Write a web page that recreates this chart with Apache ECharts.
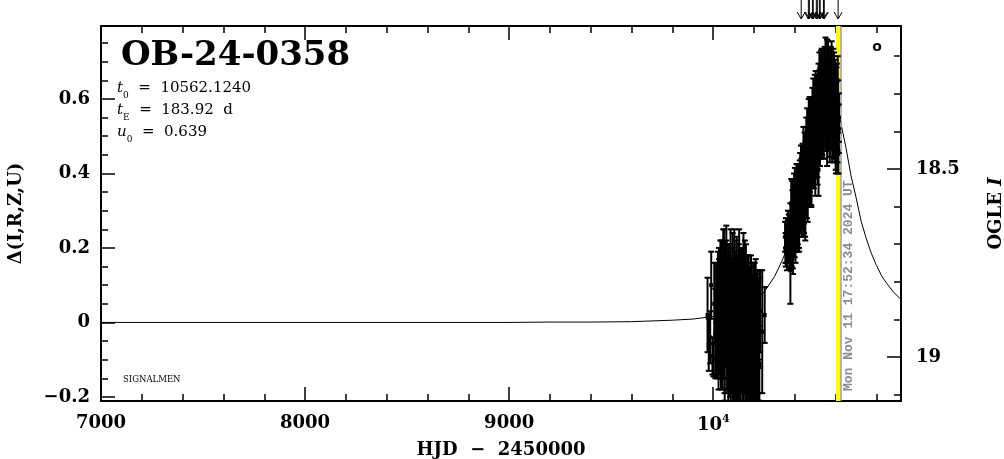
<!DOCTYPE html>
<html><head><meta charset="utf-8">
<script src="https://cdn.jsdelivr.net/npm/echarts@6/dist/echarts.min.js"></script>
<style>html,body{margin:0;padding:0;background:#fff}#c{width:1004px;height:459px}</style>
</head><body><div id="c"></div>
<script>
// ---- axis ranges / tick labels ----
const X_MIN = 7000, X_MAX = 10920;
const Y_MIN = -0.211, Y_MAX = 0.796;
const I_MIN = 18.12, I_MAX = 19.117;
const yMajor = [-0.2, 0, 0.2, 0.4, 0.6];
const yMinor = [-0.15, -0.1, -0.05, 0.05, 0.1, 0.15, 0.25, 0.3, 0.35, 0.45, 0.5, 0.55, 0.65, 0.7, 0.75];
const iMajor = [18.5, 19];
const iMinor = [18.2, 18.3, 18.4, 18.6, 18.7, 18.8, 18.9, 19.1];

// ---- model curve ----
const modelT = [7000, 7500, 8000, 8500, 9000, 9200, 9400, 9600, 9800, 9900, 10000, 10050, 10100, 10150, 10200, 10250, 10300, 10336, 10350, 10400, 10450, 10500, 10530, 10562, 10600, 10625, 10650, 10675, 10700, 10725, 10750, 10775, 10800, 10825, 10850, 10885, 10920];
const modelD = [0.000, 0.000, 0.000, 0.000, 0.000, 0.001, 0.001, 0.002, 0.006, 0.009, 0.016, 0.022, 0.029, 0.041, 0.058, 0.082, 0.123, 0.164, 0.183, 0.272, 0.396, 0.538, 0.606, 0.635, 0.596, 0.536, 0.470, 0.394, 0.335, 0.271, 0.225, 0.185, 0.153, 0.125, 0.105, 0.080, 0.062];

// ---- photometry, season 1 (first set) ----
const c1T = [9972,9978,9985,9990,9996,10001,10005,10010,10014,10018,
  10022,10025,10028,10031,10034,10037,10040,10043,10046,10049,
  10052,10055,10058,10061,10064,10067,10070,10073,10076,10079,
  10082,10085,10088,10091,10094,10097,10100,10103,10106,10109,
  10112,10115,10118,10121,10124,10127,10130,10133,10136,10139,
  10142,10145,10148,10151,10154,10157,10160,10163,10166,10169,
  10172,10175,10178,10181,10184,10187,10190,10193,10196,10199,
  10202,10205,10208,10211,10214,10217,10220,10223,10226,10229,
  10240,10252];
const c1D = [0.02,-0.06,-0.04,0.10,-0.09,-0.10,0.05,-0.03,0.08,-0.05,
  0.04,-0.06,0.09,-0.02,0.06,-0.08,0.12,0.01,-0.05,0.14,
  0.03,-0.09,0.10,-0.01,0.15,0.05,-0.07,0.11,-0.03,0.07,
  -0.10,0.13,0.00,-0.06,0.09,-0.11,0.04,0.14,-0.08,0.02,
  -0.12,0.11,-0.04,0.06,-0.10,0.13,-0.01,-0.13,0.08,-0.06,
  0.03,-0.11,0.12,-0.03,0.05,-0.12,0.09,-0.07,0.01,-0.14,
  0.07,-0.05,0.03,-0.12,0.06,-0.08,-0.01,-0.13,0.05,-0.06,
  0.02,-0.11,0.07,-0.04,-0.10,0.04,-0.07,0.01,-0.12,0.03,
  -0.025,0.02];
const c1E = [0.10,0.07,0.07,0.09,0.05,0.045,0.11,0.12,0.08,0.10,
  0.10,0.09,0.11,0.12,0.08,0.07,0.10,0.13,0.10,0.11,
  0.09,0.10,0.12,0.11,0.11,0.13,0.11,0.10,0.12,0.10,
  0.10,0.12,0.12,0.13,0.11,0.10,0.13,0.11,0.12,0.11,
  0.10,0.12,0.13,0.12,0.12,0.12,0.11,0.10,0.12,0.13,
  0.12,0.11,0.12,0.13,0.11,0.11,0.12,0.12,0.13,0.10,
  0.11,0.12,0.12,0.11,0.10,0.12,0.13,0.10,0.11,0.12,
  0.11,0.11,0.10,0.12,0.11,0.10,0.12,0.11,0.10,0.11,
  0.165,0.075];

// ---- photometry, season 1 (second set) ----
const c1bT = [10020,10023,10026,10029,10032,10035,10038,10041,10044,10047,
  10050,10053,10056,10059,10062,10065,10068,10071,10074,10077,
  10080,10083,10086,10089,10092,10095,10098,10101,10104,10107,
  10110,10113,10116,10119,10122,10125,10128,10131,10134,10137,
  10140,10143,10146,10149,10152,10155,10158,10161,10164,10167,
  10170,10173,10176,10179,10182,10185,10188,10191,10194,10197,
  10200,10203,10206,10209,10212,10215,10218,10221,10224,10227];
const c1bD = [-0.03,0.08,-0.09,0.05,-0.01,0.12,-0.06,0.02,-0.08,0.10,
  -0.04,0.13,-0.10,0.06,0.00,0.11,-0.07,0.03,-0.12,0.09,
  -0.02,0.10,-0.13,0.04,-0.08,0.12,-0.05,0.01,-0.11,0.08,
  -0.06,0.11,-0.14,0.03,-0.02,0.10,-0.09,0.05,-0.12,0.07,
  -0.04,0.09,-0.13,0.02,-0.07,0.11,-0.10,0.04,-0.14,0.06,
  -0.03,0.08,-0.12,0.01,-0.09,0.07,-0.11,0.03,-0.13,0.05,
  -0.05,0.06,-0.12,0.02,-0.08,0.04,-0.10,0.00,-0.11,0.03];
const c1bE = [0.10,0.11,0.09,0.12,0.11,0.10,0.12,0.11,0.10,0.12,
  0.11,0.12,0.11,0.10,0.12,0.11,0.12,0.10,0.11,0.12,
  0.12,0.11,0.10,0.12,0.11,0.12,0.13,0.11,0.12,0.11,
  0.12,0.11,0.10,0.12,0.13,0.11,0.12,0.11,0.12,0.10,
  0.12,0.11,0.11,0.12,0.12,0.11,0.12,0.10,0.11,0.12,
  0.11,0.10,0.12,0.11,0.12,0.11,0.12,0.10,0.11,0.11,
  0.11,0.10,0.12,0.11,0.11,0.10,0.12,0.11,0.10,0.11];

// ---- photometry, season 2 (first set) ----
const c2T = [10352,10355,10358,10361,10364,10367,10370,10373,10376,10379,
  10382,10385,10388,10391,10394,10397,10400,10403,10406,10409,
  10412,10415,10418,10421,10424,10427,10430,10433,10436,10439,
  10442,10445,10448,10451,10454,10457,10460,10463,10466,10469,
  10472,10475,10478,10481,10484,10487,10490,10493,10496,10499,
  10502,10505,10508,10511,10514,10517,10520,10523,10526,10529,
  10532,10535,10538,10541,10544,10547,10550,10553,10556,10559,
  10562,10565,10568,10571,10574,10577,10580,10583,10586,10589,
  10592,10595,10598,10601,10604,10607,10610,10613,10616,
  10378,10500,10516,10558,10611];
const c2D = [0.23,0.19,0.24,0.18,0.23,0.20,0.25,0.19,0.24,0.21,
  0.32,0.21,0.29,0.20,0.32,0.26,0.35,0.23,0.30,0.26,
  0.36,0.26,0.33,0.25,0.37,0.31,0.41,0.29,0.36,0.32,
  0.46,0.30,0.41,0.29,0.46,0.38,0.51,0.34,0.44,0.39,
  0.54,0.38,0.49,0.37,0.54,0.45,0.59,0.42,0.51,0.46,
  0.61,0.46,0.56,0.44,0.61,0.52,0.66,0.49,0.58,0.53,
  0.67,0.52,0.63,0.50,0.66,0.57,0.70,0.52,0.61,0.55,
  0.69,0.53,0.63,0.50,0.65,0.56,0.69,0.50,0.59,0.53,
  0.66,0.50,0.60,0.46,0.62,0.52,0.65,0.46,0.55,
  0.14,0.39,0.41,0.47,0.47];
const c2E = [0.04,0.04,0.04,0.04,0.04,0.04,0.04,0.04,0.04,0.04,
  0.065,0.06,0.065,0.07,0.065,0.06,0.065,0.07,0.065,0.06,
  0.065,0.07,0.065,0.06,0.065,0.07,0.065,0.06,0.065,0.07,
  0.065,0.06,0.065,0.07,0.065,0.06,0.065,0.07,0.065,0.06,
  0.065,0.07,0.065,0.06,0.065,0.07,0.065,0.06,0.065,0.07,
  0.065,0.06,0.065,0.07,0.065,0.06,0.065,0.07,0.065,0.06,
  0.065,0.07,0.065,0.06,0.065,0.07,0.065,0.06,0.065,0.07,
  0.065,0.06,0.065,0.07,0.065,0.06,0.065,0.07,0.065,0.06,
  0.065,0.07,0.065,0.06,0.065,0.07,0.065,0.06,0.065,
  0.09,0.05,0.07,0.05,0.07];

// ---- photometry, season 2 (second set) ----
const c2bT = [10354,10357,10360,10363,10366,10369,10372,10375,10378,10381,
  10384,10387,10390,10393,10396,10399,10402,10405,10408,10411,
  10414,10417,10420,10423,10426,10429,10432,10435,10438,10441,
  10444,10447,10450,10453,10456,10459,10462,10465,10468,10471,
  10474,10477,10480,10483,10486,10489,10492,10495,10498,10501,
  10504,10507,10510,10513,10516,10519,10522,10525,10528,10531,
  10534,10537,10540,10543,10546,10549,10552,10555,10558,10561,
  10564,10567,10570,10573,10576,10579,10582,10585,10588,10591,
  10594,10597,10600,10603,10606,10609,10612,10615];
const c2bD = [0.20,0.24,0.20,0.23,0.26,0.22,0.25,0.24,0.28,0.21,
  0.23,0.31,0.21,0.29,0.33,0.24,0.31,0.28,0.36,0.25,
  0.28,0.36,0.26,0.34,0.39,0.30,0.37,0.34,0.42,0.30,
  0.33,0.45,0.30,0.42,0.49,0.35,0.46,0.41,0.53,0.38,
  0.41,0.53,0.38,0.50,0.56,0.43,0.54,0.48,0.60,0.45,
  0.49,0.60,0.45,0.57,0.63,0.50,0.61,0.55,0.67,0.51,
  0.55,0.67,0.51,0.62,0.68,0.54,0.64,0.58,0.69,0.53,
  0.56,0.67,0.51,0.61,0.67,0.53,0.62,0.56,0.67,0.50,
  0.53,0.64,0.47,0.58,0.63,0.49,0.58,0.52];
const c2bE = [0.04,0.04,0.04,0.04,0.04,0.04,0.04,0.04,0.04,0.065,
  0.06,0.07,0.065,0.06,0.07,0.065,0.06,0.07,0.065,0.06,
  0.07,0.065,0.06,0.07,0.065,0.06,0.07,0.065,0.06,0.07,
  0.065,0.06,0.07,0.065,0.06,0.07,0.065,0.06,0.07,0.065,
  0.06,0.07,0.065,0.06,0.07,0.065,0.06,0.07,0.065,0.06,
  0.07,0.065,0.06,0.07,0.065,0.06,0.07,0.065,0.06,0.07,
  0.065,0.06,0.07,0.065,0.06,0.07,0.065,0.06,0.07,0.065,
  0.06,0.07,0.065,0.06,0.07,0.065,0.06,0.07,0.065,0.06,
  0.07,0.065,0.06,0.07,0.065,0.06,0.07,0.065];

// ---- markers ----
const arrowT = [10431,10466,10471,10486,10490,10505,10510,10520,10524,10540,10544,10612];
const lastObsT = 10610;
const nowT = 10627;

const SERIF = '"DejaVu Serif", serif';
const errData = [];
c1T.forEach((t, i) => errData.push([t, c1D[i], c1E[i]]));
c1bT.forEach((t, i) => errData.push([t, c1bD[i], c1bE[i]]));
c2T.forEach((t, i) => errData.push([t, c2D[i], c2E[i]]));
c2bT.forEach((t, i) => errData.push([t, c2bD[i], c2bE[i]]));

function renderErr(params, api) {
  const t = api.value(0), d = api.value(1), e = api.value(2);
  const cs = params.coordSys;
  const top = cs.y, bot = cs.y + cs.height;
  const p = api.coord([t, d]);
  const hi = api.coord([t, d + e]);
  const lo = api.coord([t, d - e]);
  const x = p[0];
  const y1 = Math.max(hi[1], top), y2 = Math.min(lo[1], bot);
  const st = { stroke: '#000', lineWidth: 2 };
  const ch = [{ type: 'line', shape: { x1: x, y1: y1, x2: x, y2: y2 }, style: st }];
  if (hi[1] >= top) ch.push({ type: 'line', shape: { x1: x - 3, y1: hi[1], x2: x + 3, y2: hi[1] }, style: st });
  if (lo[1] <= bot) ch.push({ type: 'line', shape: { x1: x - 3, y1: lo[1], x2: x + 3, y2: lo[1] }, style: st });
  if (p[1] >= top && p[1] <= bot) ch.push({ type: 'rect', shape: { x: x - 2, y: p[1] - 2, width: 4, height: 4 }, style: { fill: '#000' } });
  return { type: 'group', children: ch };
}

function renderArrow(params, api) {
  const x = api.coord([api.value(0), Y_MAX])[0];
  const top = params.coordSys.y;
  const st = { stroke: '#000', lineWidth: 1, fill: null };
  return { type: 'group', children: [
    { type: 'line', shape: { x1: x, y1: 0, x2: x, y2: top - 7 }, style: st },
    { type: 'polyline', shape: { points: [[x - 4, top - 14], [x, top - 7], [x + 4, top - 14]] }, style: st }
  ]};
}

const chart = echarts.init(document.getElementById('c'), null, { renderer: 'canvas' });
const tickMaj = { show: true, inside: true, length: 14, lineStyle: { color: '#000', width: 1.5 } };
const tickMin = { show: true, inside: true, length: 7, lineStyle: { color: '#000', width: 1.5 } };
const lblStyle = { color: '#000', fontFamily: SERIF, fontWeight: 'bold', fontSize: 18 };
const frame = { show: true, onZero: false, lineStyle: { color: '#000', width: 2 } };
const richPar = {
  i: { fontFamily: SERIF, fontStyle: 'italic', fontSize: 15, lineHeight: 24, verticalAlign: 'middle' },
  s: { fontFamily: SERIF, fontSize: 9, lineHeight: 24, verticalAlign: 'bottom' },
  n: { fontFamily: SERIF, fontSize: 15, lineHeight: 24, verticalAlign: 'middle' }
};

chart.setOption({
  animation: false,
  backgroundColor: '#fff',
  grid: { left: 101, right: 103, top: 26, bottom: 58, containLabel: false, outerBoundsMode: 'none' },
  xAxis: [
    { type: 'value', position: 'bottom', min: X_MIN, max: X_MAX, interval: 1000,
      axisLine: frame,
      axisTick: tickMaj, minorTick: Object.assign({ splitNumber: 5 }, tickMin),
      splitLine: { show: false }, minorSplitLine: { show: false },
      axisLabel: Object.assign({ margin: 13, showMaxLabel: false,
        formatter: v => v === 10000 ? '{m|10}{sup|4}' : (v % 1000 === 0 ? String(v) : ''),
        rich: { m: { fontFamily: SERIF, fontWeight: 'bold', fontSize: 18, lineHeight: 22, verticalAlign: 'middle' },
                sup: { fontFamily: SERIF, fontWeight: 'bold', fontSize: 11, lineHeight: 22, verticalAlign: 'top' } } }, lblStyle),
      name: 'HJD  \u2212  2450000', nameLocation: 'middle', nameGap: 40,
      nameTextStyle: lblStyle },
    { type: 'value', position: 'top', min: X_MIN, max: X_MAX, interval: 1000,
      axisLine: frame,
      axisTick: tickMaj, minorTick: Object.assign({ splitNumber: 5 }, tickMin),
      splitLine: { show: false }, axisLabel: { show: false } }
  ],
  yAxis: [
    { type: 'value', position: 'left', min: Y_MIN, max: Y_MAX,
      axisLine: frame,
      axisTick: Object.assign({ customValues: yMajor }, tickMaj),
      splitLine: { show: false },
      axisLabel: Object.assign({ customValues: yMajor, margin: 11,
        formatter: v => v < 0 ? '\u2212' + Math.abs(v) : String(v) }, lblStyle),
      name: '\u0394(I,R,Z,U)', nameLocation: 'middle', nameGap: 76, nameRotate: 90,
      nameTextStyle: lblStyle },
    { type: 'value', position: 'left', min: Y_MIN, max: Y_MAX,
      axisLine: { show: false, onZero: false }, axisTick: Object.assign({ customValues: yMinor }, tickMin),
      splitLine: { show: false }, axisLabel: { show: false } },
    { type: 'value', position: 'right', min: I_MIN, max: I_MAX, inverse: true,
      axisLine: frame,
      axisTick: Object.assign({ customValues: iMajor }, tickMaj),
      splitLine: { show: false },
      axisLabel: Object.assign({ customValues: iMajor, margin: 15, formatter: v => String(v) }, lblStyle),
      name: 'OGLE {it|I}', nameLocation: 'middle', nameGap: 86, nameRotate: 90,
      nameTextStyle: Object.assign({ rich: { it: { fontFamily: SERIF, fontWeight: 'bold', fontSize: 18, fontStyle: 'italic' } } }, lblStyle) },
    { type: 'value', position: 'right', min: I_MIN, max: I_MAX, inverse: true,
      axisLine: { show: false, onZero: false }, axisTick: Object.assign({ customValues: iMinor }, tickMin),
      splitLine: { show: false }, axisLabel: { show: false } }
  ],
  series: [
    { type: 'line', xAxisIndex: 0, yAxisIndex: 0, data: modelT.map((t, i) => [t, modelD[i]]),
      showSymbol: false, lineStyle: { color: '#000', width: 1 }, z: 2, silent: true,
      markLine: { symbol: 'none', silent: true, label: { show: false }, animation: false,
        data: [ { xAxis: lastObsT, lineStyle: { color: '#ffff00', width: 4, type: 'solid' } },
                { xAxis: nowT, lineStyle: { color: '#9a9a9a', width: 1.5, type: 'solid' } } ] } },
    { type: 'custom', xAxisIndex: 0, yAxisIndex: 0, data: errData, renderItem: renderErr,
      encode: { x: 0, y: 1 }, z: 5, clip: true, silent: true },
    { type: 'custom', xAxisIndex: 0, yAxisIndex: 0, data: arrowT.map(t => [t, Y_MAX]), renderItem: renderArrow,
      encode: { x: 0, y: 1 }, z: 5, clip: false, silent: true }
  ],
  graphic: [
    { type: 'text', x: 121, y: 56, style: { text: 'OB-24-0358', font: 'bold 34px "DejaVu Serif"', fill: '#000', verticalAlign: 'middle' } },
    { type: 'text', x: 117, y: 88, style: { text: '{i|t}{s|0}{n|  =  10562.1240}', verticalAlign: 'middle', rich: richPar } },
    { type: 'text', x: 117, y: 110, style: { text: '{i|t}{s|E}{n|  =  183.92  d}', verticalAlign: 'middle', rich: richPar } },
    { type: 'text', x: 117, y: 132, style: { text: '{i|u}{s|0}{n|  =  0.639}', verticalAlign: 'middle', rich: richPar } },
    { type: 'text', x: 123, y: 380, style: { text: 'SIGNALMEN', font: '8.5px "DejaVu Serif"', fill: '#000', verticalAlign: 'middle' } },
    { type: 'text', x: 877, y: 47, style: { text: 'o', font: 'bold 14px "DejaVu Sans"', fill: '#000', align: 'center', verticalAlign: 'middle' } },
    { type: 'text', x: 849, y: 391, rotation: Math.PI / 2, style: { text: 'Mon Nov 11 17:52:34 2024 UT', font: 'bold 13px "Liberation Mono"', fill: '#8c8c8c', align: 'left', verticalAlign: 'middle' } }
  ]
});
</script>
</body></html>
